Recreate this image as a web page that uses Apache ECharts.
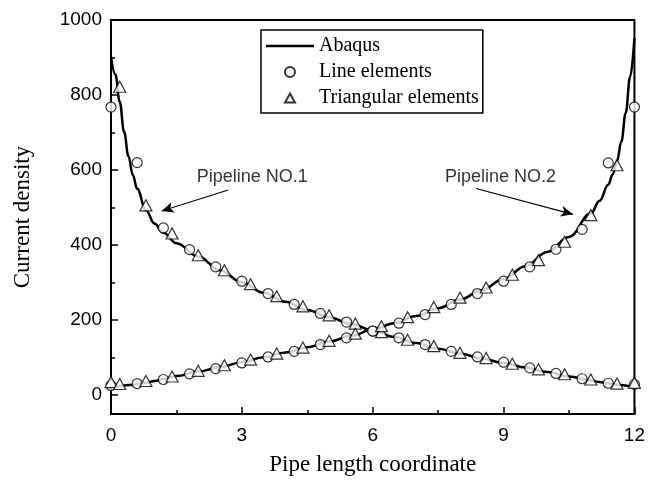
<!DOCTYPE html>
<html>
<head>
<meta charset="utf-8">
<script src="https://cdn.jsdelivr.net/npm/echarts@6/dist/echarts.min.js"></script>
<style>html,body{margin:0;padding:0;background:#fff}#c{width:648px;height:483px}</style>
</head>
<body>
<div id="c"></div>
<script>
// ---- data ----
const lineX = [0, 0.1, 0.2, 0.3, 0.4, 0.5, 0.6, 0.8, 1.0, 1.2, 1.5, 2, 2.5, 3, 3.5, 4, 4.5, 5, 5.5, 6, 6.5, 7, 7.5, 8, 8.5, 9, 9.5, 10, 10.5, 11, 11.2, 11.4, 11.5, 11.6, 11.7, 11.8, 11.9, 12];
const abaqus1 = [902, 855, 782, 702, 637, 587, 550, 493, 457, 433, 405, 370, 333, 301, 273, 249, 227, 208, 190, 173, 155, 139, 124, 111, 98, 86, 74, 62, 50, 39, 35, 32, 30, 28, 27, 26, 24, 22];
const abaqus2 = [22, 24, 25, 26, 27, 28, 30, 33, 38, 43, 51, 63, 75, 88, 101, 114, 128, 143, 158, 175, 192, 211, 232, 255, 280, 310, 344, 382, 422, 484, 518, 561, 588, 624, 676, 752, 848, 952];

const circleX = [0, 0.6, 1.2, 1.8, 2.4, 3.0, 3.6, 4.2, 4.8, 5.4, 6.0, 6.6, 7.2, 7.8, 8.4, 9.0, 9.6, 10.2, 10.8, 11.4, 12];
const circles1 = [768, 620, 446, 388, 342, 304, 271, 242, 218, 195, 171, 153, 135, 117, 102, 88, 73, 58, 44, 32, 29];
const circles2 = [26, 31, 42, 57, 71, 86, 102, 117, 135, 153, 171, 192, 215, 242, 271, 304, 342, 389, 442, 619, 768];

const triX1 = [0.2, 0.8, 1.4, 2.0, 2.6, 3.2, 3.8, 4.4, 5.0, 5.6, 6.2, 6.8, 7.4, 8.0, 8.6, 9.2, 9.8, 10.4, 11.0, 11.6, 12];
const tri1 = [822, 506, 431, 373, 333, 296, 264, 237, 213, 191, 168, 148, 131, 113, 99, 84, 69, 56, 42, 31, 33];
const triX2 = [0, 0.2, 0.8, 1.4, 2.0, 2.6, 3.2, 3.8, 4.4, 5.0, 5.6, 6.2, 6.8, 7.4, 8.0, 8.6, 9.2, 9.8, 10.4, 11.0, 11.6];
const tri2 = [35, 30, 38, 50, 65, 80, 95, 111, 127, 145, 164, 184, 208, 235, 260, 287, 321, 360, 409, 480, 613];

const xTicks = [0, 3, 6, 9, 12];
const yTicks = [0, 200, 400, 600, 800, 1000];
const yMinorTicks = [100, 300, 500, 700, 900];

const annoText = ['Pipeline NO.1', 'Pipeline NO.2'];
const annoPos = [[3.24, 581], [8.93, 581]];
const arrowFrom = [[2.69, 547], [8.37, 551]];
const arrowTo = [[1.16, 491], [10.59, 482]];

// ---- chart ----
const pairs = (xs, ys) => xs.map((x, i) => [x, ys[i]]);
const serif = 'Liberation Serif';
const sans = 'Liberation Sans';

// legend icons padded to the legend item box (48 x 12)
const legendLine = 'path://M0,0M48,12M0,4.8H48V7.2H0Z';
const legendCircle = 'path://M0,0M48,12M29,6A5,5,0,1,1,19,6A5,5,0,1,1,29,6Z';
const legendTriangle = 'path://M0,0M48,12M24,1.5L29,10.5L19,10.5Z';

const chart = echarts.init(document.getElementById('c'), null, {renderer: 'canvas'});
const lineBase = {
  type: 'line', name: 'Abaqus', showSymbol: false, symbol: 'none',
  smooth: 0.4, smoothMonotone: 'x',
  lineStyle: {color: '#000', width: 2.5}, itemStyle: {color: '#000'}, z: 2
};
const circleBase = {
  type: 'scatter', name: 'Line elements', symbol: 'circle', symbolSize: 10,
  itemStyle: {color: '#fff', borderColor: '#000', borderWidth: 1.2}, z: 3
};
const triBase = {
  type: 'scatter', name: 'Triangular elements', symbol: 'triangle', symbolSize: [12, 11],
  itemStyle: {color: '#fff', borderColor: '#000', borderWidth: 1.2}, z: 4
};

chart.setOption({
  animation: false,
  backgroundColor: '#fff',
  grid: {left: 111, right: 13, top: 20, bottom: 69, show: true, borderColor: '#000', borderWidth: 2, backgroundColor: 'transparent'},
  legend: {
    orient: 'vertical', left: 261, top: 30,
    data: [
      {name: 'Abaqus', icon: legendLine, itemStyle: {color: '#000', borderWidth: 0}},
      {name: 'Line elements', icon: legendCircle},
      {name: 'Triangular elements', icon: legendTriangle}
    ],
    itemWidth: 48, itemHeight: 12, itemGap: 6,
    padding: [6, 4, 5, 4],
    borderColor: '#000', borderWidth: 1.5,
    textStyle: {fontFamily: serif, fontSize: 20, color: '#000'},
    selectedMode: false
  },
  xAxis: {
    type: 'value', min: 0, max: 12, interval: 3,
    name: 'Pipe length coordinate', nameLocation: 'middle', nameGap: 39,
    nameTextStyle: {fontFamily: serif, fontSize: 23, color: '#000'},
    axisLine: {show: true, onZero: false, lineStyle: {color: '#000', width: 2}},
    axisTick: {show: true, inside: true, length: 7, lineStyle: {color: '#000', width: 1.5}},
    minorTick: {show: true, splitNumber: 2, length: 4, lineStyle: {color: '#000', width: 1.5}},
    axisLabel: {fontFamily: sans, fontSize: 19, color: '#000', margin: 12, customValues: xTicks},
    splitLine: {show: false}
  },
  yAxis: [{
    type: 'value', min: -50, max: 1000,
    name: 'Current density', nameLocation: 'middle', nameGap: 77,
    nameTextStyle: {fontFamily: serif, fontSize: 23, color: '#000'},
    axisLine: {show: true, onZero: false, lineStyle: {color: '#000', width: 2}},
    axisTick: {show: true, inside: true, length: 7, customValues: yTicks, lineStyle: {color: '#000', width: 1.5}},
    axisLabel: {fontFamily: sans, fontSize: 19, color: '#000', margin: 9, customValues: yTicks, formatter: v => String(v)},
    splitLine: {show: false}
  }, {
    type: 'value', min: -50, max: 1000, position: 'left',
    axisLine: {show: false, onZero: false},
    axisTick: {show: true, inside: true, length: 4, customValues: yMinorTicks, lineStyle: {color: '#000', width: 1.5}},
    axisLabel: {show: false},
    splitLine: {show: false}
  }],
  series: [
    Object.assign({}, lineBase, {data: pairs(lineX, abaqus1)}),
    Object.assign({}, lineBase, {data: pairs(lineX, abaqus2)}),
    Object.assign({}, circleBase, {data: pairs(circleX, circles1)}),
    Object.assign({}, circleBase, {data: pairs(circleX, circles2)}),
    Object.assign({}, triBase, {data: pairs(triX1, tri1)}),
    Object.assign({}, triBase, {data: pairs(triX2, tri2)}),
    {
      type: 'scatter', name: 'annotations', symbolSize: 0, silent: true, z: 5,
      data: annoPos.map((p, i) => ({value: p, name: annoText[i]})),
      label: {show: true, position: 'inside', formatter: p => p.name, fontFamily: sans, fontSize: 18, color: '#000'},
      markLine: {
        silent: true, symbol: ['none', 'arrow'], symbolSize: [8, 12],
        label: {show: false},
        lineStyle: {color: '#000', width: 1.2, type: 'solid'},
        data: arrowFrom.map((f, i) => [{coord: f}, {coord: arrowTo[i]}])
      }
    }
  ]
});
</script>
</body>
</html>
